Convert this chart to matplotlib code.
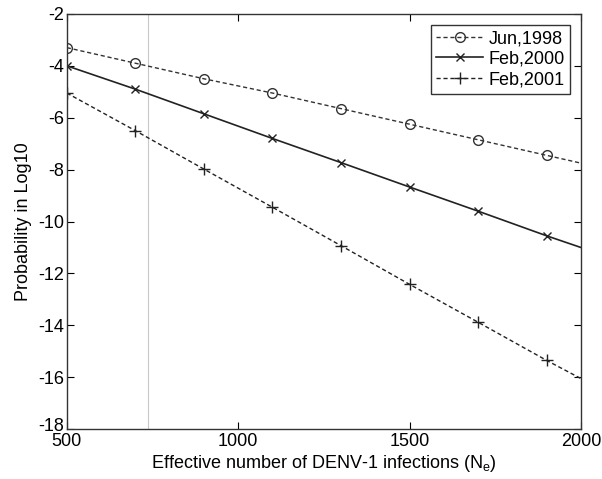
import matplotlib
matplotlib.use("Agg")
import matplotlib.pyplot as plt
import matplotlib.transforms as mtransforms

plt.rcParams['font.family'] = ['Liberation Sans', 'DejaVu Sans']
plt.rcParams['mathtext.fontset'] = 'custom'
plt.rcParams['mathtext.rm'] = 'Liberation Sans'
plt.rcParams['mathtext.it'] = 'Liberation Sans'
plt.rcParams['axes.unicode_minus'] = False

# dados
ne = [500, 700, 900, 1100, 1300, 1500, 1700, 1900, 2000]
jun_1998 = [-3.3, -3.9, -4.5, -5.05, -5.65, -6.25, -6.85, -7.45, -7.75]
feb_2000 = [-4.0, -4.9, -5.85, -6.8, -7.73, -8.67, -9.6, -10.55, -11.0]
feb_2001 = [-5.05, -6.5, -7.98, -9.45, -10.93, -12.42, -13.88, -15.35, -16.05]
linha_vertical = 736

fig = plt.figure(figsize=(6.02, 4.79), dpi=100)
ax = fig.add_axes([0.111, 0.104, 0.854, 0.867])

ax.axvline(linha_vertical, color='#c8c8c8', lw=0.8)
ax.plot(ne, jun_1998, color='#333333', ls=(0, (3, 2)), lw=1.0, marker='o',
        ms=7, mfc='none', mec='#333333', markevery=range(8), label='Jun,1998')
ax.plot(ne, feb_2000, color='#222222', ls='-', lw=1.2, marker='x',
        ms=6, markevery=range(8), label='Feb,2000')
ax.plot(ne, feb_2001, color='#222222', ls=(0, (3, 2)), lw=1.0, marker='+',
        ms=8, markevery=range(8), label='Feb,2001')

ax.set_xlim(500, 2000)
ax.set_ylim(-18, -2)
ax.set_xticks([500, 1000, 1500, 2000])
ax.set_yticks(range(-18, -1, 2))
ax.tick_params(direction='in', top=True, right=True, labelsize=13, length=5)
ax.tick_params(axis='x', pad=3)
ax.tick_params(axis='y', pad=2)
for s in ax.spines.values():
    s.set_linewidth(1.0)
    s.set_color('#333333')

# sobe um pouco o rotulo -18 para nao encostar no 500
rot = ax.get_yticklabels()[0]
rot.set_transform(rot.get_transform() + mtransforms.ScaledTranslation(0, 5 / 100, fig.dpi_scale_trans))

ax.set_xlabel(r'Effective number of DENV-1 infections ($\mathregular{N_e}$)', fontsize=13, labelpad=2)
ax.set_ylabel('Probability in Log10', fontsize=13, labelpad=4)

leg = ax.legend(loc='upper right', fontsize=13, fancybox=False, framealpha=1,
                edgecolor='#333333', handlelength=2.6, borderpad=0.3,
                labelspacing=0.2, handletextpad=0.3, borderaxespad=0.6)
leg.get_frame().set_linewidth(1.0)

plt.savefig('out.png', dpi=100)
